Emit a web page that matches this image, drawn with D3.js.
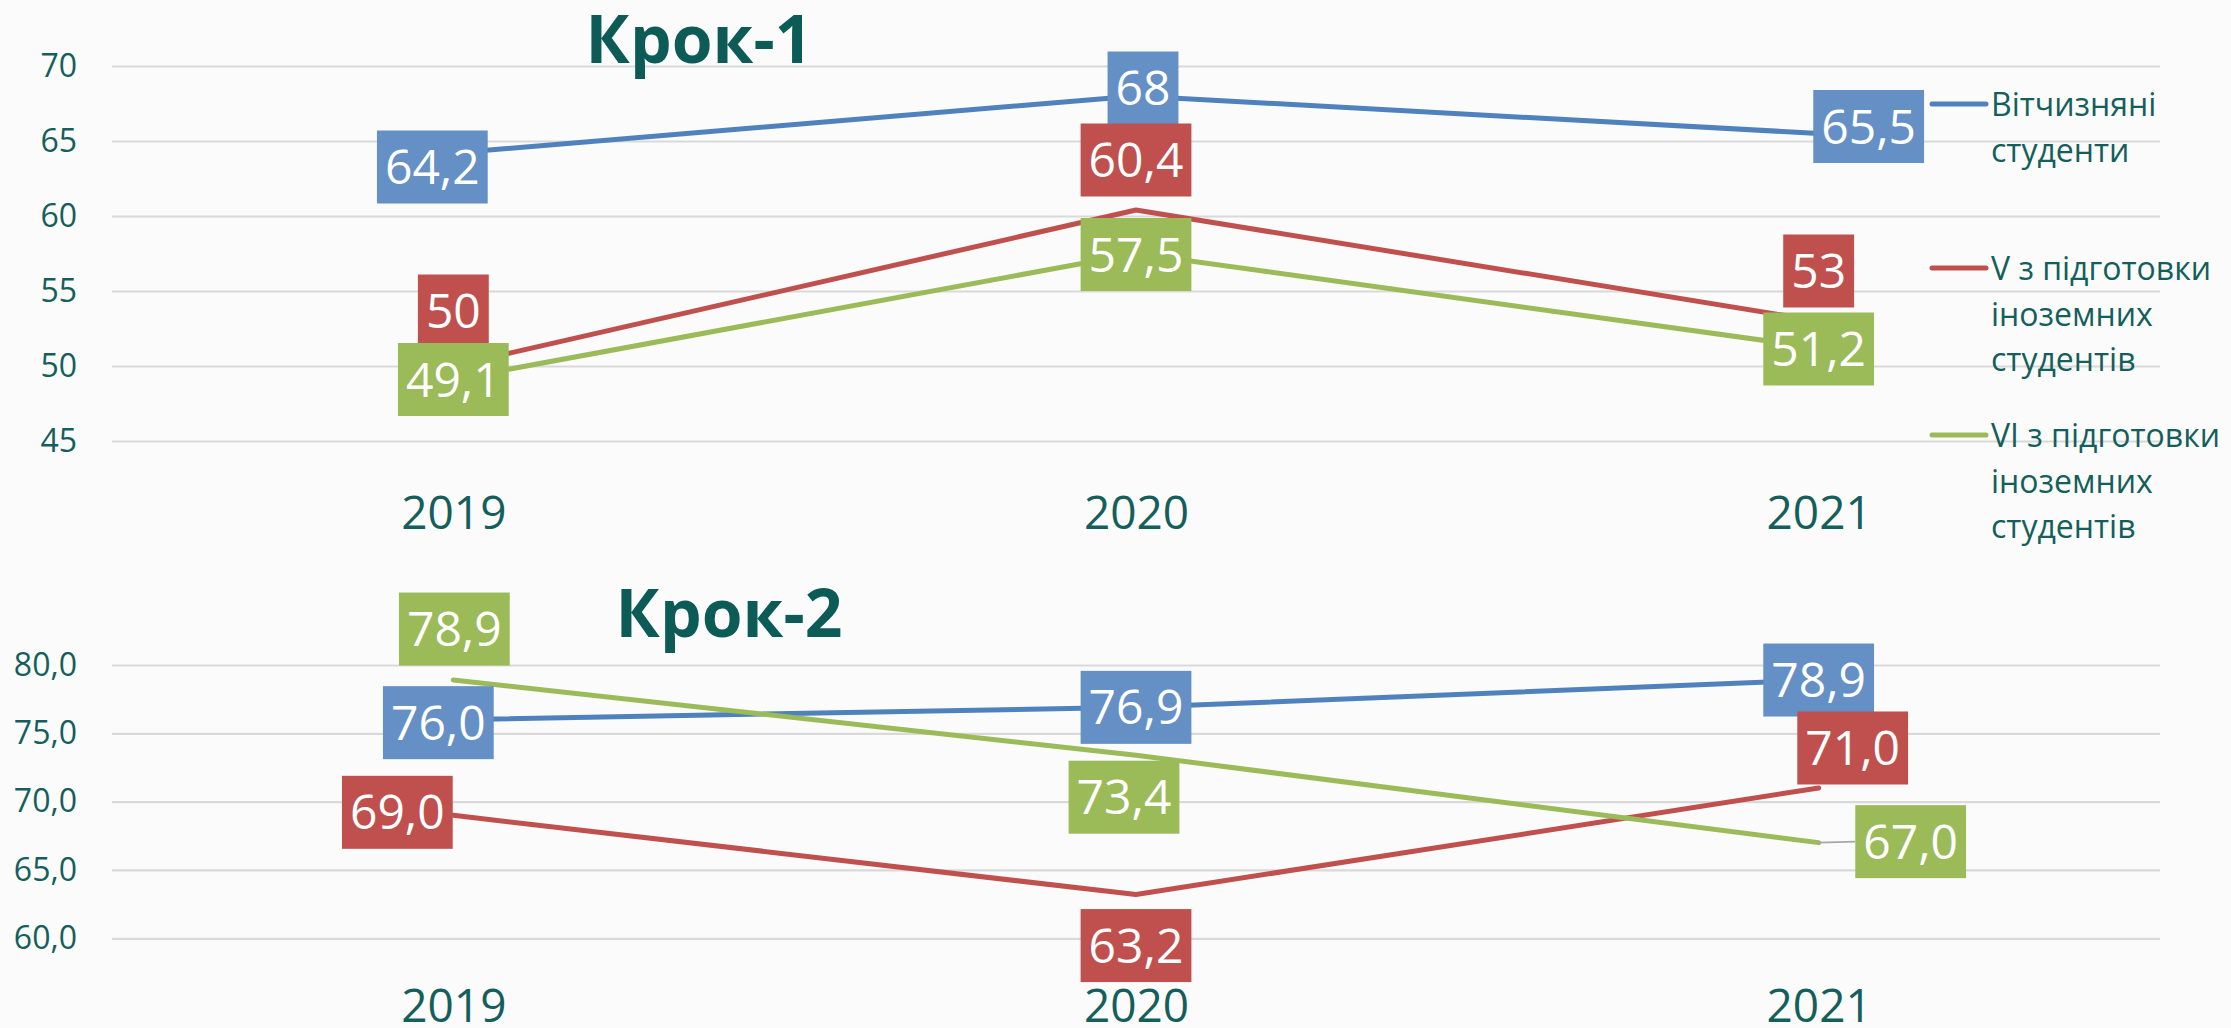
<!DOCTYPE html>
<html>
<head>
<meta charset="utf-8">
<script src="https://cdn.jsdelivr.net/npm/d3@7"></script>
<style>
  html, body { margin: 0; padding: 0; background: #fbfbfb; }
  svg { display: block; font-family: "Open Sans", "Noto Sans", sans-serif; }
</style>
</head>
<body>
<svg id="chart" width="2231" height="1028"></svg>
<script>
// ---------- DATA ----------
const years = ["2019", "2020", "2021"];
const seriesNames = [
  "Вітчизняні студенти",
  "V з підготовки іноземних студентів",
  "VI з підготовки іноземних студентів"
];
const legendLines = [
  ["Вітчизняні", "студенти"],
  ["V з підготовки", "іноземних", "студентів"],
  ["VI з підготовки", "іноземних", "студентів"]
];
const krok1Title = "Крок-1";
const krok2Title = "Крок-2";
const krok1Domestic = [64.2, 68, 65.5];
const krok1V = [50, 60.4, 53];
const krok1VI = [49.1, 57.5, 51.2];
const krok2Domestic = [76.0, 76.9, 78.9];
const krok2V = [69.0, 63.2, 71.0];
const krok2VI = [78.9, 73.4, 67.0];
const krok1Ticks = [45, 50, 55, 60, 65, 70];
const krok2Ticks = [60, 65, 70, 75, 80];

// ---------- LAYOUT / STYLE ----------
const lineColors = ["#4f81bd", "#c0504d", "#9bbb59"];
const boxColors = ["#6490c6", "#c0504d", "#9bbb59"];
const textColor = "#145f5b";
const titleColor = "#0c5b56";
// label box centre offsets from point [dx, dy] per series per year
const krok1LabelOffsets = [
  [[-21, 14], [7, -8], [50, -7]],
  [[0, -55], [0, -50], [0, -50]],
  [[0, 0], [0, 1], [0, 1]]
];
const krok2LabelOffsets = [
  [[-15, 3], [0, 0], [0, 0]],
  [[-56, -3], [0, 51], [34, -40]],
  [[1, -51], [-12, 42], [92, -1]]
];
const krok2Leader = [[false, false, false], [false, false, false], [false, false, true]];

const svg = d3.select("#chart");
const x = d3.scalePoint().domain(years).range([112, 2160]).padding(0.5);

function fmtComma(v, fixed) {
  const s = fixed ? v.toFixed(1) : String(v);
  return s.replace(".", ",");
}

function drawPanel(cfg) {
  const g = svg.append("g");
  const y = d3.scaleLinear().domain(cfg.domain).range(cfg.range);

  // gridlines
  const grid = g.append("g").attr("transform", "translate(112,0)")
    .call(d3.axisLeft(y).tickValues(cfg.ticks).tickSize(-(2160 - 112)).tickFormat(""));
  grid.select(".domain").remove();
  grid.selectAll(".tick line").attr("stroke", "#d9d9d9").attr("stroke-width", 2.2);

  // y labels
  const yAx = g.append("g").attr("transform", "translate(112,0)")
    .call(d3.axisLeft(y).tickValues(cfg.ticks).tickSize(0).tickPadding(35)
      .tickFormat(d => cfg.fixed ? fmtComma(d, true) : String(d)));
  yAx.select(".domain").remove();
  yAx.selectAll("text").attr("fill", textColor).attr("font-size", 32)
    .attr("font-family", "Open Sans, sans-serif");

  // x labels
  const xAx = g.append("g").attr("transform", `translate(0,${cfg.range[0]})`)
    .call(d3.axisBottom(x).tickSize(0).tickPadding(cfg.xPad));
  xAx.select(".domain").remove();
  xAx.selectAll("text").attr("fill", textColor).attr("font-size", 46)
    .attr("font-family", "Open Sans, sans-serif");

  // title
  g.append("text").attr("x", cfg.titleX).attr("y", cfg.titleY)
    .attr("text-anchor", "middle").attr("font-size", 66).attr("font-weight", 700)
    .attr("fill", titleColor).text(cfg.title);

  // lines
  const line = d3.line().x((d, i) => x(years[i])).y(d => y(d));
  cfg.series.forEach((vals, si) => {
    g.append("path").datum(vals).attr("d", line).attr("fill", "none")
      .attr("stroke", lineColors[si]).attr("stroke-width", 5)
      .attr("stroke-linecap", "round").attr("stroke-linejoin", "round");
  });

  // labels
  cfg.series.forEach((vals, si) => {
    vals.forEach((v, yi) => {
      const px = x(years[yi]), py = y(v);
      const [dx, dy] = cfg.offsets[si][yi];
      const cx = px + dx, cy = py + dy;
      const lg = g.append("g");
      const rect = lg.append("rect").attr("fill", boxColors[si]);
      const t = lg.append("text").attr("x", cx).attr("y", cy + 17)
        .attr("text-anchor", "middle").attr("font-size", 48).attr("fill", "#ffffff")
        .text(fmtComma(v, cfg.fixed));
      const w = t.node().getComputedTextLength() + 16;
      const h = 73;
      rect.attr("x", cx - w / 2).attr("y", cy - h / 2).attr("width", w).attr("height", h);
      if (cfg.leaders && cfg.leaders[si][yi]) {
        g.insert("line", () => lg.node())
          .attr("x1", px).attr("y1", py).attr("x2", cx - w / 2).attr("y2", cy)
          .attr("stroke", "#a6a6a6").attr("stroke-width", 1.8);
      }
    });
  });
}

drawPanel({
  domain: [45, 70], range: [441, 66], ticks: krok1Ticks, fixed: false,
  xPad: 55, title: krok1Title, titleX: 699, titleY: 63,
  series: [krok1Domestic, krok1V, krok1VI], offsets: krok1LabelOffsets
});
drawPanel({
  domain: [60, 80], range: [938.3, 665], ticks: krok2Ticks, fixed: true,
  xPad: 51, title: krok2Title, titleX: 729, titleY: 637,
  series: [krok2Domestic, krok2V, krok2VI], offsets: krok2LabelOffsets, leaders: krok2Leader
});

// legend
const legendBaselines = [116, 280, 447];
const legendLineHeight = 45.5;
const legend = svg.append("g");
seriesNames.forEach((name, si) => {
  const b = legendBaselines[si];
  legend.append("line").attr("x1", 1932).attr("x2", 1986)
    .attr("y1", b - 12).attr("y2", b - 12)
    .attr("stroke", lineColors[si]).attr("stroke-width", 5).attr("stroke-linecap", "round");
  const t = legend.append("text").attr("font-size", 32).attr("fill", textColor);
  legendLines[si].forEach((ln, li) => {
    t.append("tspan").attr("x", 1991).attr("y", b + li * legendLineHeight).text(ln);
  });
});
</script>
</body>
</html>
